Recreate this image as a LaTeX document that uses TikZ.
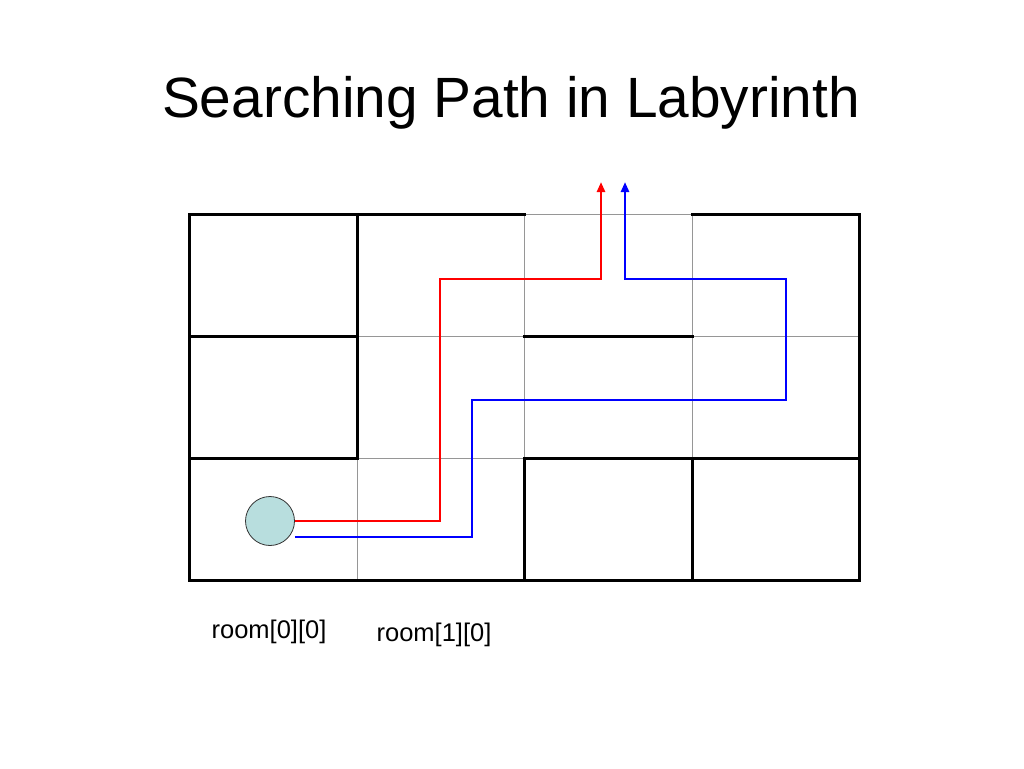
\documentclass[tikz,border=0pt]{standalone}
\usepackage{fontspec}
\setmainfont{Liberation Sans}
\usetikzlibrary{arrows.meta,positioning,calc}
\definecolor{roomfill}{RGB}{184,222,222}
\definecolor{gridgray}{RGB}{150,150,150}

\begin{document}
\begin{tikzpicture}[x=1pt, y=-1pt,
    wall/.style={line width=3pt, line cap=rect},
    cellline/.style={gridgray, line width=1pt},
    route/.style={line width=2.8pt, -{Triangle[length=10pt,width=8pt]}},
    roomlabel/.style={font=\fontsize{25.5}{30}\selectfont, anchor=base}
]
    \useasboundingbox (0,0) rectangle (1024,768);

    % Title
    \node[anchor=base, font=\fontsize{56.8}{66}\selectfont] (title) at (511,117) {Searching Path in Labyrinth};

    % Grid of rooms
    \foreach \x in {189,357,524,692,859} \draw[cellline] (\x,214) -- (\x,580);
    \foreach \y in {214,336,458,580} \draw[cellline] (189,\y) -- (859,\y);

    % Walls
    \draw[wall] (524,214) -- (189,214) -- (189,580) -- (859,580) -- (859,214) -- (692,214);
    \draw[wall] (357,214) -- (357,458);
    \draw[wall] (189,336) -- (357,336);
    \draw[wall] (524,336) -- (692,336);
    \draw[wall] (189,458) -- (357,458);
    \draw[wall] (524,580) -- (524,458) -- (859,458);
    \draw[wall] (692,458) -- (692,580);

    % Start and exits
    \node[circle, draw=black!80, line width=0.8pt, fill=roomfill, minimum size=49pt, inner sep=0pt] (start) at (270,521) {};
    \coordinate (redexit) at (601,182);
    \coordinate (blueexit) at (625,182);

    % Paths
    \draw[route, red] (start.east) -| (440,279) -| (redexit);
    \draw[route, blue] ($(start.east)+(0,16)$) -| (472,400) -| (786,279) -| (blueexit);

    % Room labels
    \node[roomlabel] (room00) at (269,638) {room[0][0]};
    \node[roomlabel] (room10) at (434,641) {room[1][0]};
\end{tikzpicture}
\end{document}
